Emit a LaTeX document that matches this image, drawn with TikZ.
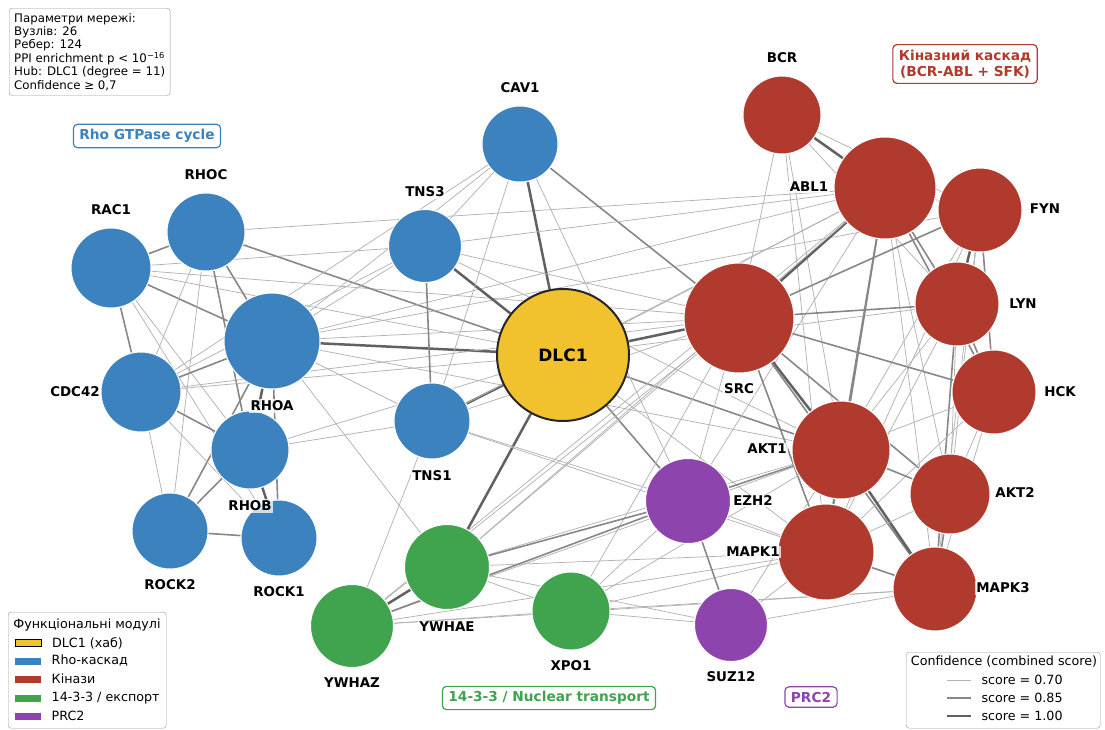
\documentclass[tikz,border=0pt]{standalone}
\usepackage{fontspec}
\setmainfont{DejaVu Sans}
\usetikzlibrary{positioning, backgrounds}

\definecolor{rhoblue}{HTML}{3B82BF}
\definecolor{kinred}{HTML}{B03A2E}
\definecolor{expgreen}{HTML}{40A44F}
\definecolor{prcpurple}{HTML}{8E44AD}
\definecolor{hubyellow}{HTML}{F2C12E}

\begin{document}
\begin{tikzpicture}[
    x=1pt, y=-1pt,
    % GLOBAL CFG
    font=\fontsize{12.7}{14}\selectfont,
    % Styles
    gene/.style={% For the protein nodes
        circle,
        draw=white,
        line width=1pt,
        inner sep=0pt,
        },
    rhonode/.style={gene, fill=rhoblue},
    kinnode/.style={gene, fill=kinred},
    expnode/.style={gene, fill=expgreen},
    prcnode/.style={gene, fill=prcpurple},
    hubnode/.style={% For the hub
        gene,
        fill=hubyellow,
        draw=black!85,
        line width=2pt,
        font=\bfseries\fontsize{17}{20}\selectfont,
        },
    glabel/.style={% For the gene names
        font=\bfseries\fontsize{13.4}{16}\selectfont,
        fill=white,
        fill opacity=0.75,
        text opacity=1,
        inner sep=1.5pt,
        },
    modbox/.style={% For the module titles
        draw,
        rounded corners=4pt,
        line width=1.2pt,
        fill=white,
        align=center,
        inner xsep=6pt,
        inner ysep=5pt,
        font=\bfseries\fontsize{13.7}{16.5}\selectfont,
        },
    legbox/.style={% For legends and the info box
        draw=black!40,
        rounded corners=3pt,
        fill=white,
        },
    patch/.style={% Legend colour patches
        rectangle,
        inner sep=0pt,
        minimum width=26pt,
        minimum height=7pt,
        },
    e7/.style={line width=0.75pt, black!30},
    e8/.style={line width=1.6pt, black!47},
    e9/.style={line width=2.5pt, black!62},
    ]

\useasboundingbox (0,0) rectangle (1105,729);

    % Draw the Rho module
    \node [rhonode, minimum size=76pt] (CAV1) at (520,144) {};
    \node [rhonode, minimum size=73pt] (TNS3) at (425,246) {};
    \node [rhonode, minimum size=76pt] (TNS1) at (432,421) {};
    \node [rhonode, minimum size=78pt] (RHOC) at (206,232) {};
    \node [rhonode, minimum size=80pt] (RAC1) at (111,268) {};
    \node [rhonode, minimum size=96pt] (RHOA) at (272,341) {};
    \node [rhonode, minimum size=80pt] (CDC42) at (141,392) {};
    \node [rhonode, minimum size=78pt] (RHOB) at (250,450) {};
    \node [rhonode, minimum size=76pt] (ROCK2) at (170,531) {};
    \node [rhonode, minimum size=76pt] (ROCK1) at (279,538) {};

    % Draw the hub
    \node [hubnode, minimum size=132pt] (DLC1) at (563,355) {DLC1};

    % Draw kinases
    \node [kinnode, minimum size=78pt] (BCR) at (782,115) {};
    \node [kinnode, minimum size=102pt] (ABL1) at (885,188) {};
    \node [kinnode, minimum size=84pt] (FYN) at (980,210) {};
    \node [kinnode, minimum size=110pt] (SRC) at (739,318) {};
    \node [kinnode, minimum size=84pt] (LYN) at (957,304) {};
    \node [kinnode, minimum size=84pt] (HCK) at (994,392) {};
    \node [kinnode, minimum size=98pt] (AKT1) at (841,450) {};
    \node [kinnode, minimum size=80pt] (AKT2) at (950,494) {};
    \node [kinnode, minimum size=96pt] (MAPK1) at (826,552) {};
    \node [kinnode, minimum size=84pt] (MAPK3) at (935,589) {};

    % Draw 14-3-3 / export and PRC2
    \node [expnode, minimum size=85pt] (YWHAE) at (447,567) {};
    \node [expnode, minimum size=83pt] (YWHAZ) at (352,626) {};
    \node [expnode, minimum size=78pt] (XPO1) at (571,611) {};
    \node [prcnode, minimum size=85pt] (EZH2) at (688,501) {};
    \node [prcnode, minimum size=73pt] (SUZ12) at (731,625) {};

    % Gene names
    \node [glabel] (lCAV1) at (520,88) {CAV1};
    \node [glabel] (lTNS3) at (425,192) {TNS3};
    \node [glabel] (lTNS1) at (432,476) {TNS1};
    \node [glabel] (lRHOC) at (206,175) {RHOC};
    \node [glabel] (lRAC1) at (111,210) {RAC1};
    \node [glabel] (lRHOA) at (272,406) {RHOA};
    \node [glabel] (lCDC42) at (75,392) {CDC42};
    \node [glabel] (lRHOB) at (250,506) {RHOB};
    \node [glabel] (lROCK2) at (170,585) {ROCK2};
    \node [glabel] (lROCK1) at (279,592) {ROCK1};
    \node [glabel] (lBCR) at (782,58) {BCR};
    \node [glabel] (lABL1) at (809,187) {ABL1};
    \node [glabel] (lFYN) at (1045,209) {FYN};
    \node [glabel] (lSRC) at (739,389) {SRC};
    \node [glabel] (lLYN) at (1023,304) {LYN};
    \node [glabel] (lHCK) at (1060,392) {HCK};
    \node [glabel] (lAKT1) at (767,449) {AKT1};
    \node [glabel] (lAKT2) at (1015,493) {AKT2};
    \node [glabel] (lMAPK1) at (753,552) {MAPK1};
    \node [glabel] (lMAPK3) at (1003,588) {MAPK3};
    \node [glabel] (lYWHAE) at (447,627) {YWHAE};
    \node [glabel] (lYWHAZ) at (352,683) {YWHAZ};
    \node [glabel] (lXPO1) at (571,666) {XPO1};
    \node [glabel] (lEZH2) at (753,501) {EZH2};
    \node [glabel] (lSUZ12) at (731,677) {SUZ12};

    % Module titles
    \node [modbox, draw=rhoblue, text=rhoblue] (tRho) at (147,136) {Rho GTPase cycle};
    \node [modbox, draw=kinred, text=kinred] (tKin) at (965,64) {Кіназний каскад\\(BCR-ABL + SFK)};
    \node [modbox, draw=expgreen, text=expgreen] (tExp) at (549,698) {14-3-3 / Nuclear transport};
    \node [modbox, draw=prcpurple, text=prcpurple] (tPrc) at (811,697) {PRC2};

    % Info box
    \node [legbox, anchor=north west, align=left, inner sep=5pt, font=\fontsize{11.8}{13.4}\selectfont] (info) at (9,8) {Параметри мережі:\\Вузлів: 26\\Ребер: 124\\PPI enrichment p < 10\textsuperscript{−16}\\Hub: DLC1 (degree = 11)\\Confidence ≥ 0,7};

    % Legend of modules
    \node [legbox, anchor=north west, minimum width=158pt, minimum height=116pt] (modlegend) at (8,612) {};
    \node (modtitle) at (87,625) {Функціональні модулі};
    \node [patch, fill=hubyellow, draw=black, line width=1pt] (pHub) at (28,643) {};
    \node [patch, fill=rhoblue] (pRho) at (28,661) {};
    \node [patch, fill=kinred] (pKin) at (28,679) {};
    \node [patch, fill=expgreen] (pExp) at (28,698) {};
    \node [patch, fill=prcpurple] (pPrc) at (28,716) {};
    \node [right=7pt of pHub] {DLC1 (хаб)};
    \node [right=7pt of pRho] {Rho-каскад};
    \node [right=7pt of pKin] {Кінази};
    \node [right=7pt of pExp] {14-3-3 / експорт};
    \node [right=7pt of pPrc] {PRC2};

    % Legend of confidence
    \node [legbox, anchor=north west, minimum width=194pt, minimum height=76pt] (conflegend) at (906,652) {};
    \node (conftitle) at (1004,661) {Confidence (combined score)};
    \coordinate (s7a) at (947,680);
    \coordinate (s7b) at (971,680);
    \coordinate (s8a) at (947,698);
    \coordinate (s8b) at (971,698);
    \coordinate (s9a) at (947,716);
    \coordinate (s9b) at (971,716);
    \draw [e7] (s7a) -- (s7b);
    \draw [e8] (s8a) -- (s8b);
    \draw [e9] (s9a) -- (s9b);
    \node [anchor=west] (c7) at (978,680) {score = 0.70};
    \node [anchor=west] (c8) at (978,698) {score = 0.85};
    \node [anchor=west] (c9) at (978,716) {score = 1.00};

% Start connecting all.
\begin{scope}[on background layer]
    % Rho module
    \draw [e9] (RHOA) -- (DLC1);
    \draw [e8] (RAC1) -- (RHOC);
    \draw [e8] (RAC1) -- (RHOA);
    \draw [e8] (RAC1) -- (CDC42);
    \draw [e7] (RAC1) -- (RHOB);
    \draw [e7] (RAC1) -- (ROCK1);
    \draw [e7] (RAC1) -- (DLC1);
    \draw [e7] (RAC1) -- (SRC);
    \draw [e7] (RAC1) -- (TNS3);
    \draw [e8] (RHOC) -- (RHOA);
    \draw [e8] (RHOC) -- (RHOB);
    \draw [e7] (RHOC) -- (CDC42);
    \draw [e7] (RHOC) -- (ROCK2);
    \draw [e8] (RHOC) -- (DLC1);
    \draw [e7] (RHOC) -- (ABL1);
    \draw [e8] (RHOA) -- (CDC42);
    \draw [e9] (RHOA) -- (RHOB);
    \draw [e8] (RHOA) -- (ROCK1);
    \draw [e8] (RHOA) -- (ROCK2);
    \draw [e7] (RHOA) -- (SRC);
    \draw [e7] (RHOA) -- (ABL1);
    \draw [e7] (RHOA) -- (TNS3);
    \draw [e7] (RHOA) -- (FYN);
    \draw [e7] (RHOA) -- (AKT1);
    \draw [e7] (RHOA) -- (YWHAE);
    \draw [e8] (CDC42) -- (RHOB);
    \draw [e7] (CDC42) -- (ROCK2);
    \draw [e7] (CDC42) -- (DLC1);
    \draw [e7] (CDC42) -- (SRC);
    \draw [e7] (CDC42) -- (ROCK1);
    \draw [e7] (CDC42) -- (TNS3);
    \draw [e9] (RHOB) -- (ROCK1);
    \draw [e8] (RHOB) -- (ROCK2);
    \draw [e7] (RHOB) -- (DLC1);
    \draw [e7] (RHOB) -- (TNS1);
    \draw [e8] (ROCK2) -- (ROCK1);

    % Hub and adaptors
    \draw [e9] (DLC1) -- (CAV1);
    \draw [e9] (DLC1) -- (TNS3);
    \draw [e9] (DLC1) -- (TNS1);
    \draw [e9] (DLC1) -- (SRC);
    \draw [e8] (DLC1) -- (EZH2);
    \draw [e9] (DLC1) -- (YWHAE);
    \draw [e8] (DLC1) -- (AKT1);
    \draw [e7] (DLC1) -- (ABL1);
    \draw [e7] (DLC1) -- (LYN);
    \draw [e7] (DLC1) -- (MAPK1);
    \draw [e8] (CAV1) -- (SRC);
    \draw [e7] (CAV1) -- (TNS3);
    \draw [e7] (CAV1) -- (RHOA);
    \draw [e7] (CAV1) -- (TNS1);
    \draw [e7] (CAV1) -- (EZH2);
    \draw [e7] (CAV1) -- (CDC42);
    \draw [e8] (TNS3) -- (TNS1);
    \draw [e7] (TNS3) -- (ABL1);
    \draw [e7] (TNS3) -- (SRC);
    \draw [e7] (TNS3) -- (AKT1);
    \draw [e7] (TNS1) -- (SRC);
    \draw [e7] (TNS1) -- (RHOA);
    \draw [e7] (TNS1) -- (ABL1);
    \draw [e7] (TNS1) -- (MAPK1);
    \draw [e7] (TNS1) -- (YWHAZ);
    \draw [e7] (TNS1) -- (EZH2);

    % Kinase cascade
    \draw [e9] (BCR) -- (ABL1);
    \draw [e7] (BCR) -- (SRC);
    \draw [e7] (BCR) -- (AKT1);
    \draw [e7] (BCR) -- (LYN);
    \draw [e7] (BCR) -- (MAPK1);
    \draw [e7] (BCR) -- (FYN);
    \draw [e9] (ABL1) -- (SRC);
    \draw [e7] (ABL1) -- (FYN);
    \draw [e8] (ABL1) -- (LYN);
    \draw [e8] (ABL1) -- (HCK);
    \draw [e8] (ABL1) -- (AKT1);
    \draw [e7] (ABL1) -- (AKT2);
    \draw [e8] (ABL1) -- (MAPK1);
    \draw [e7] (ABL1) -- (MAPK3);
    \draw [e7] (ABL1) -- (EZH2);
    \draw [e7] (ABL1) -- (YWHAE);
    \draw [e7] (ABL1) -- (YWHAZ);
    \draw [e9] (FYN) -- (LYN);
    \draw [e8] (FYN) -- (SRC);
    \draw [e8] (FYN) -- (HCK);
    \draw [e7] (FYN) -- (AKT1);
    \draw [e7] (FYN) -- (MAPK3);
    \draw [e7] (FYN) -- (AKT2);
    \draw [e7] (FYN) -- (MAPK1);
    \draw [e8] (SRC) -- (LYN);
    \draw [e8] (SRC) -- (HCK);
    \draw [e9] (SRC) -- (AKT1);
    \draw [e8] (SRC) -- (MAPK1);
    \draw [e8] (SRC) -- (MAPK3);
    \draw [e7] (SRC) -- (EZH2);
    \draw [e7] (SRC) -- (YWHAE);
    \draw [e7] (SRC) -- (YWHAZ);
    \draw [e7] (SRC) -- (XPO1);
    \draw [e8] (SRC) -- (AKT2);
    \draw [e8] (LYN) -- (HCK);
    \draw [e7] (LYN) -- (AKT1);
    \draw [e7] (LYN) -- (MAPK1);
    \draw [e8] (LYN) -- (MAPK3);
    \draw [e7] (LYN) -- (AKT2);
    \draw [e7] (HCK) -- (AKT1);
    \draw [e7] (HCK) -- (AKT2);
    \draw [e7] (HCK) -- (MAPK3);
    \draw [e7] (HCK) -- (MAPK1);
    \draw [e8] (AKT1) -- (AKT2);
    \draw [e8] (AKT1) -- (MAPK1);
    \draw [e9] (AKT1) -- (MAPK3);
    \draw [e8] (AKT1) -- (EZH2);
    \draw [e7] (AKT1) -- (YWHAE);
    \draw [e7] (AKT1) -- (YWHAZ);
    \draw [e7] (AKT1) -- (XPO1);
    \draw [e7] (AKT2) -- (MAPK1);
    \draw [e8] (AKT2) -- (MAPK3);
    \draw [e8] (MAPK1) -- (MAPK3);
    \draw [e7] (MAPK1) -- (EZH2);
    \draw [e7] (MAPK1) -- (YWHAE);
    \draw [e7] (MAPK1) -- (XPO1);
    \draw [e7] (MAPK1) -- (YWHAZ);
    \draw [e7] (MAPK1) -- (SUZ12);
    \draw [e7] (MAPK3) -- (YWHAZ);
    \draw [e7] (MAPK3) -- (SUZ12);
    \draw [e7] (MAPK3) -- (XPO1);

    % PRC2 and 14-3-3
    \draw [e8] (EZH2) -- (SUZ12);
    \draw [e8] (EZH2) -- (YWHAE);
    \draw [e8] (EZH2) -- (YWHAZ);
    \draw [e7] (EZH2) -- (XPO1);
    \draw [e7] (SUZ12) -- (YWHAE);
    \draw [e7] (SUZ12) -- (XPO1);
    \draw [e7] (SUZ12) -- (AKT1);
    \draw [e9] (YWHAE) -- (YWHAZ);
    \draw [e7] (YWHAE) -- (XPO1);
    \draw [e7] (YWHAZ) -- (XPO1);
\end{scope}

\end{tikzpicture}
\end{document}
